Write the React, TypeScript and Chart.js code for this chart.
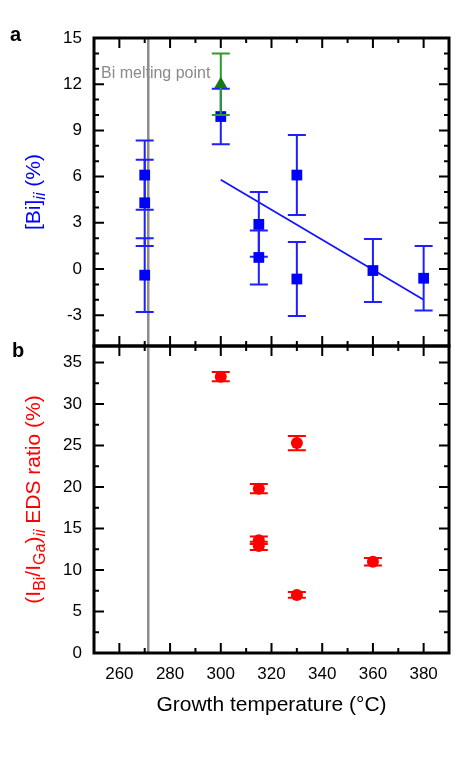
import React, { useEffect, useRef } from "react";
import { Chart, registerables } from "chart.js";

Chart.register(...registerables);

const FONT = '"Liberation Sans", Arial, Helvetica, sans-serif';

// ---------- Data ----------
const meltingPoint = 271.4;
const meltingLabel = "Bi melting point";

// Panel a: [Bi]ii (%)
const blueX = [270, 270, 270, 300, 315, 315, 330, 330, 360, 380];
const blueY = [6.1, 4.3, -0.4, 9.9, 2.9, 0.75, 6.1, -0.65, -0.1, -0.6];
const blueErr = [2.25, 2.8, 2.4, 1.8, 2.1, 1.75, 2.6, 2.4, 2.05, 2.1];
const greenX = [300];
const greenY = [12.0];
const greenErr = [2.0];
const fitX = [300, 380];
const fitY = [5.8, -2.0];

// Panel b: (IBi/IGa)ii EDS ratio (%)
const redX = [300, 315, 315, 315, 330, 330, 360];
const redY = [33.3, 19.8, 13.6, 12.9, 25.3, 7.0, 11.0];
const redErr = [0.56, 0.56, 0.45, 0.5, 0.85, 0.35, 0.46];

// Ticks
const xMajor = [260, 280, 300, 320, 340, 360, 380];
const xMinor = [270, 290, 310, 330, 350, 370];
const topYMajor = [-3, 0, 3, 6, 9, 12, 15];
const topYMinor = [-4, -2, -1, 1, 2, 4, 5, 7, 8, 10, 11, 13, 14];
const botYMajor = [0, 5, 10, 15, 20, 25, 30, 35];
const botYMinor = [2.5, 7.5, 12.5, 17.5, 22.5, 27.5, 32.5];

const X_MIN = 250, X_MAX = 390;
const TOP_MIN = -5, TOP_MAX = 15;
const BOT_MIN = 0, BOT_MAX = 37;

type Seg = { t: string; sub?: boolean; italic?: boolean };
const topTitle: Seg[] = [{ t: "[Bi]" }, { t: "ii", sub: true, italic: true }, { t: " (%)" }];
const botTitle: Seg[] = [
  { t: "(I" }, { t: "Bi", sub: true }, { t: "/I" }, { t: "Ga", sub: true }, { t: ")" },
  { t: "ii", sub: true, italic: true }, { t: " EDS ratio (%)" },
];

const toPts = (xs: number[], ys: number[]) => xs.map((x, i) => ({ x, y: ys[i] }));

function drawRich(ctx: CanvasRenderingContext2D, segs: Seg[], baseX: number, cy: number, color: string) {
  const main = 21, sub = 16;
  const fontOf = (s: Seg) => `${s.italic ? "italic " : ""}${s.sub ? sub : main}px ${FONT}`;
  let total = 0;
  const widths = segs.map((s) => { ctx.font = fontOf(s); const w = ctx.measureText(s.t).width; total += w; return w; });
  ctx.save();
  ctx.translate(baseX, cy);
  ctx.rotate(-Math.PI / 2);
  ctx.fillStyle = color;
  ctx.textBaseline = "alphabetic";
  ctx.textAlign = "left";
  let pos = -total / 2;
  segs.forEach((s, i) => {
    ctx.font = fontOf(s);
    ctx.fillText(s.t, pos, s.sub ? 5 : 0);
    pos += widths[i];
  });
  ctx.restore();
}

const panelPlugin = {
  id: "panel",
  beforeDatasetsDraw(chart: any, _args: any, opts: any) {
    const { ctx, chartArea: a, scales } = chart;
    const px = scales.x.getPixelForValue(meltingPoint);
    ctx.save();
    ctx.strokeStyle = "#8c8c8c";
    ctx.lineWidth = 2.5;
    ctx.beginPath();
    ctx.moveTo(px, a.top);
    ctx.lineTo(px, a.bottom);
    ctx.stroke();
    if (opts.showMeltLabel) {
      ctx.fillStyle = "#8a8a8a";
      ctx.font = `16px ${FONT}`;
      ctx.textAlign = "left";
      ctx.textBaseline = "alphabetic";
      ctx.fillText(meltingLabel, a.left + 7, a.top + 39.5);
    }
    ctx.restore();
  },
  beforeDatasetDraw(chart: any, args: any) {
    const ds = chart.data.datasets[args.index];
    if (!ds.errors) return;
    const { ctx, scales } = chart;
    ctx.save();
    ctx.strokeStyle = ds.errColor;
    ctx.lineWidth = 2;
    ds.data.forEach((p: any, i: number) => {
      const e = ds.errors[i];
      const px = scales.x.getPixelForValue(p.x);
      const y1 = scales.y.getPixelForValue(p.y + e);
      const y2 = scales.y.getPixelForValue(p.y - e);
      ctx.beginPath();
      ctx.moveTo(px, y1); ctx.lineTo(px, y2);
      ctx.moveTo(px - 9, y1); ctx.lineTo(px + 9, y1);
      ctx.moveTo(px - 9, y2); ctx.lineTo(px + 9, y2);
      ctx.stroke();
    });
    ctx.restore();
  },
  afterDraw(chart: any, _args: any, opts: any) {
    const { ctx, chartArea: a, scales } = chart;
    ctx.save();
    ctx.strokeStyle = "#000";
    ctx.lineWidth = 2;
    const xt = (vals: number[], len: number) => vals.forEach((v) => {
      const p = scales.x.getPixelForValue(v);
      ctx.beginPath();
      ctx.moveTo(p, a.top); ctx.lineTo(p, a.top + len);
      ctx.moveTo(p, a.bottom); ctx.lineTo(p, a.bottom - len);
      ctx.stroke();
    });
    const yt = (vals: number[], len: number) => vals.forEach((v) => {
      const p = scales.y.getPixelForValue(v);
      ctx.beginPath();
      ctx.moveTo(a.left, p); ctx.lineTo(a.left + len, p);
      ctx.moveTo(a.right, p); ctx.lineTo(a.right - len, p);
      ctx.stroke();
    });
    xt(xMajor, 10); xt(xMinor, 5);
    yt(opts.yMajor, 10); yt(opts.yMinor, 5);
    ctx.lineWidth = 3;
    ctx.strokeRect(a.left, a.top, a.right - a.left, a.bottom - a.top);
    // panel letter
    ctx.fillStyle = "#000";
    ctx.font = `bold 20px ${FONT}`;
    ctx.textAlign = "left";
    ctx.textBaseline = "alphabetic";
    ctx.fillText(opts.letter, opts.letterX, opts.letterY);
    ctx.restore();
    drawRich(ctx, opts.title, a.left - 54, (a.top + a.bottom) / 2, opts.titleColor);
  },
};

function makeYScale(min: number, max: number, ticks: number[]) {
  return {
    type: "linear",
    min, max,
    afterBuildTicks: (s: any) => { s.ticks = ticks.map((v) => ({ value: v })); },
    afterFit: (s: any) => { s.width = 94; },
    grid: { display: false, drawTicks: false },
    border: { display: false },
    ticks: { color: "#000", font: { family: FONT, size: 17 }, padding: 12 },
  };
}

export default function App() {
  const topRef = useRef<HTMLCanvasElement>(null);
  const botRef = useRef<HTMLCanvasElement>(null);

  useEffect(() => {
    Chart.defaults.font.family = FONT;
    const top = new Chart(topRef.current!, {
      type: "scatter",
      data: {
        datasets: [
          {
            data: toPts(greenX, greenY),
            pointStyle: "triangle",
            pointRadius: 7.5,
            backgroundColor: "#147814",
            borderColor: "#147814",
            borderWidth: 0,
            errors: greenErr,
            errColor: "#2e9a2e",
          } as any,
          {
            data: toPts(blueX, blueY),
            pointStyle: "rect",
            pointRadius: 7.6,
            backgroundColor: "#0000ff",
            borderColor: "#0000ff",
            borderWidth: 0,
            errors: blueErr,
            errColor: "#1f1fff",
          } as any,
          {
            data: toPts(fitX, fitY),
            showLine: true,
            pointRadius: 0,
            borderColor: "#1414ff",
            borderWidth: 1.8,
            fill: false,
          } as any,
        ],
      },
      options: {
        animation: false,
        responsive: false,
        events: [],
        layout: { padding: { left: 0, right: 24, top: 38, bottom: 769 - 346 } },
        plugins: {
          legend: { display: false },
          tooltip: { enabled: false },
          panel: {
            showMeltLabel: true,
            yMajor: topYMajor, yMinor: topYMinor,
            letter: "a", letterX: 10, letterY: 41,
            title: topTitle, titleColor: "#0000ff",
          },
        } as any,
        scales: {
          x: { type: "linear", min: X_MIN, max: X_MAX, display: false },
          y: makeYScale(TOP_MIN, TOP_MAX, topYMajor) as any,
        },
      },
      plugins: [panelPlugin],
    });

    const bot = new Chart(botRef.current!, {
      type: "scatter",
      data: {
        datasets: [
          {
            data: toPts(redX, redY),
            pointStyle: "circle",
            pointRadius: 6,
            backgroundColor: "#ff0000",
            borderColor: "#ff0000",
            borderWidth: 0,
            errors: redErr,
            errColor: "#ff0000",
          } as any,
        ],
      },
      options: {
        animation: false,
        responsive: false,
        events: [],
        layout: { padding: { left: 0, right: 24, top: 346, bottom: 47 } },
        plugins: {
          legend: { display: false },
          tooltip: { enabled: false },
          panel: {
            showMeltLabel: false,
            yMajor: botYMajor, yMinor: botYMinor,
            letter: "b", letterX: 12, letterY: 357,
            title: botTitle, titleColor: "#ff0000",
          },
        } as any,
        scales: {
          x: {
            type: "linear",
            min: X_MIN, max: X_MAX,
            afterBuildTicks: (s: any) => { s.ticks = xMajor.map((v) => ({ value: v })); },
            afterFit: (s: any) => { s.height = 69; },
            grid: { display: false, drawTicks: false },
            border: { display: false },
            ticks: { color: "#000", font: { family: FONT, size: 17 }, padding: 11, maxRotation: 0 },
            title: {
              display: true,
              text: "Growth temperature (°C)",
              color: "#000",
              font: { family: FONT, size: 21 },
            },
          },
          y: makeYScale(BOT_MIN, BOT_MAX, botYMajor) as any,
        },
      },
      plugins: [panelPlugin],
    });

    return () => { top.destroy(); bot.destroy(); };
  }, []);

  const cs: React.CSSProperties = { position: "absolute", left: 0, top: 0, width: 473, height: 769 };
  return (
    <div style={{ position: "fixed", left: 0, top: 0, width: 473, height: 769, background: "#fff" }}>
      <canvas ref={topRef} width={473} height={769} style={cs} />
      <canvas ref={botRef} width={473} height={769} style={cs} />
    </div>
  );
}
